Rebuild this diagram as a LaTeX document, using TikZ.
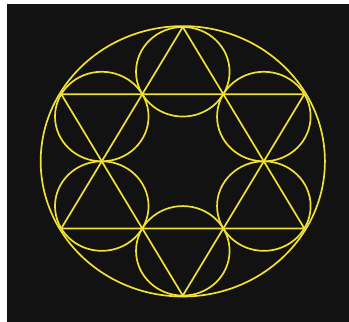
\documentclass[tikz,border=0pt]{standalone}
\definecolor{bgdark}{HTML}{121212}
\definecolor{lineyel}{HTML}{F0E135}
\begin{document}
\begin{tikzpicture}[x=1pt,y=-1pt,
  geo/.style={draw=lineyel,line width=1.7pt,line join=round}]
\useasboundingbox (0,0) rectangle (349,322);
\fill[white] (0,0) rectangle (349,322);
\fill[bgdark] (7,4) rectangle (349,322);
\begin{scope}[shift={(182.8,161.3)},xscale=1.045]
  \def\R{134.3}
  % hexagram points
  \coordinate (T) at (0,-\R);
  \coordinate (B) at (0,\R);
  \coordinate (UL) at ({-0.8660*\R},{-0.5*\R});
  \coordinate (UR) at ({0.8660*\R},{-0.5*\R});
  \coordinate (LL) at ({-0.8660*\R},{0.5*\R});
  \coordinate (LR) at ({0.8660*\R},{0.5*\R});
  % outer ellipse
  \draw[geo] (0,0) ellipse [x radius=136, y radius=135.2];
  % triangles
  \draw[geo] (T) -- (LL) -- (LR) -- cycle;
  \draw[geo] (B) -- (UL) -- (UR) -- cycle;
  % six small circles
  \foreach \a in {90,30,-30,-90,-150,150}{
    \draw[geo] ({cos(\a)*2*\R/3},{-sin(\a)*2*\R/3}) circle [radius={\R/3}];
  }
\end{scope}
\end{tikzpicture}
\end{document}
